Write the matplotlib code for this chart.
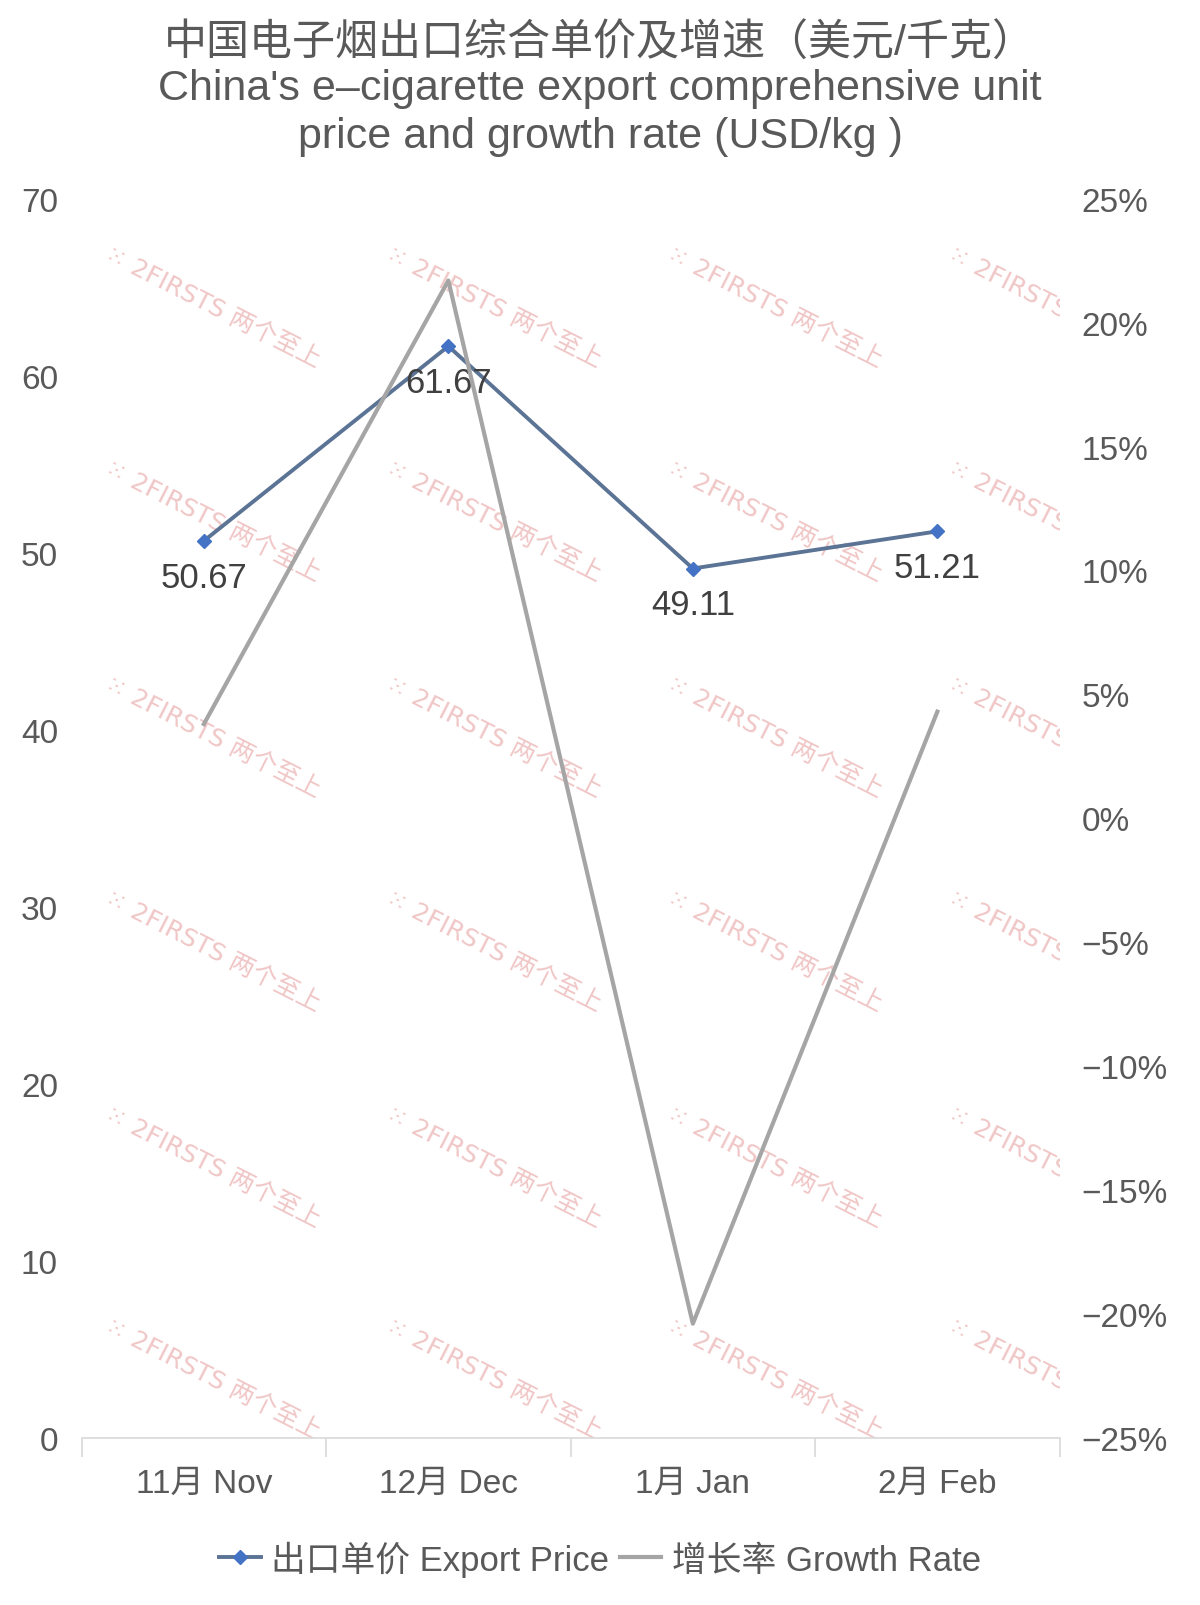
import matplotlib.pyplot as plt
import matplotlib
from matplotlib.ticker import FuncFormatter, FixedLocator
from matplotlib.lines import Line2D

matplotlib.rcParams['font.family'] = ['Liberation Sans', 'Noto Sans CJK SC', 'DejaVu Sans']
matplotlib.rcParams['axes.unicode_minus'] = True

# 데이터
months = ['11月 Nov', '12月 Dec', '1月 Jan', '2月 Feb']
price = [50.67, 61.67, 49.11, 51.21]
growth = [3.8, 21.7, -20.4, 4.3]   # %
price_labels = ['50.67', '61.67', '49.11', '51.21']

text_c = '#595959'
fig = plt.figure(figsize=(12, 16.06), dpi=100)
ax = fig.add_axes([0.068, 0.1042, 0.815, 0.7714])
ax2 = ax.twinx()

x = list(range(len(months)))

# 워터마크
for wx in [-0.4, 0.75, 1.9, 3.05]:
    for wy in [67.0, 54.9, 42.7, 30.6, 18.4, 6.4]:
        ax.text(wx, wy, '⁙ 2FIRSTS 两个至上', color='#f0c6c6', fontsize=18,
                rotation=-27, rotation_mode='anchor', ha='left', va='center',
                family=['DejaVu Sans', 'Noto Sans CJK SC'],
                clip_on=True, zorder=0)

ax.plot(x, price, color='#5b7394', lw=2.8, marker='D', ms=7,
        mfc='#4472c4', mec='#4472c4', zorder=3)
for xi, yi, lb in zip(x, price, price_labels):
    ax.annotate(lb, (xi, yi), xytext=(0, -26), textcoords='offset points',
                ha='center', va='center', fontsize=25, color='#404040')

ax2.plot(x, growth, color='#a5a5a5', lw=3.0, zorder=4)

ax.set_xlim(-0.5, 3.5)
ax.set_ylim(0, 70)
ax2.set_ylim(-25, 25)
ax.set_yticks(range(0, 71, 10))
ax2.set_yticks(range(-25, 26, 5))
ax2.yaxis.set_major_formatter(FuncFormatter(lambda v, p: f'{int(v)}%'.replace('-', '−')))

ax.set_xticks(x)
ax.set_xticklabels(months)
ax.xaxis.set_minor_locator(FixedLocator([-0.5, 0.5, 1.5, 2.5, 3.5]))
ax.tick_params(axis='x', which='major', length=0, pad=22, labelsize=24, labelcolor=text_c)
ax.tick_params(axis='x', which='minor', length=14, color='#d9d9d9', width=1.2)
ax.tick_params(axis='y', length=0, pad=17, labelsize=24, labelcolor=text_c)
ax2.tick_params(axis='y', length=0, pad=16, labelsize=24, labelcolor=text_c)

for a in (ax, ax2):
    for s in ['top', 'left', 'right', 'bottom']:
        a.spines[s].set_visible(False)
ax.spines['bottom'].set_visible(True)
ax.spines['bottom'].set_color('#d9d9d9')
ax.spines['bottom'].set_linewidth(1.2)

fig.text(0.5, 0.9725, '中国电子烟出口综合单价及增速（美元/千克）', ha='center', va='center',
         fontsize=31, color=text_c)
fig.text(0.5, 0.9445, "China's e–cigarette export comprehensive unit", ha='center', va='center',
         fontsize=31, color=text_c)
fig.text(0.5, 0.9145, 'price and growth rate (USD/kg )', ha='center', va='center',
         fontsize=31, color=text_c)

handles = [Line2D([], [], color='#5b7394', lw=2.8, marker='D', ms=7, mfc='#4472c4', mec='#4472c4'),
           Line2D([], [], color='#a5a5a5', lw=3.0)]
fig.legend(handles, ['出口单价 Export Price', '增长率 Growth Rate'], loc='center',
           bbox_to_anchor=(0.5, 0.029), ncol=2, frameon=False, fontsize=25,
           labelcolor=text_c, handlelength=1.2, handletextpad=0.3, columnspacing=0.3)

plt.savefig('out.png', dpi=100)
